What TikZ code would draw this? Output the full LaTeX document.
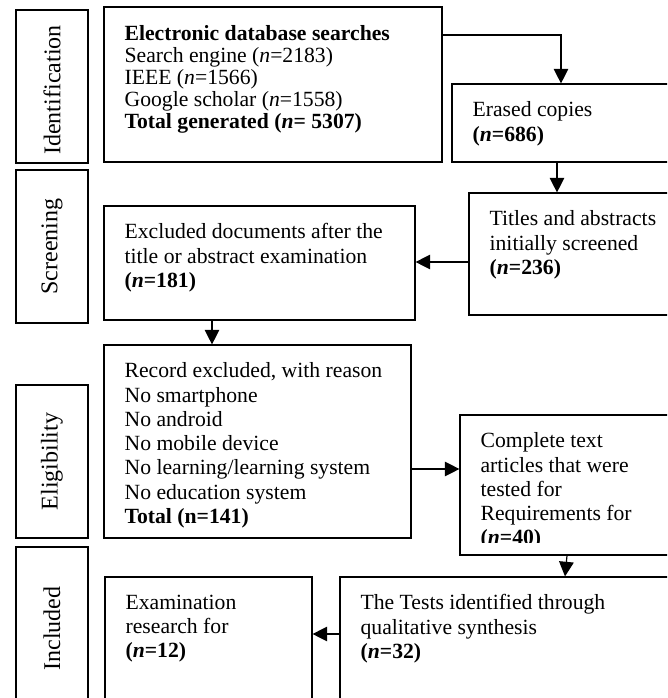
\documentclass[tikz,border=0pt]{standalone}
\usepackage{fontspec}
\setmainfont{Liberation Serif}
\usetikzlibrary{arrows.meta, fit}

\tikzset{
  box/.style={draw, line width=1pt, inner sep=0pt},
  stagebox/.style={draw, line width=1.7pt, inner sep=0pt},
  txt/.style={anchor=north west, align=left, inner sep=0pt, font=\fontsize{18.5}{20.75}\selectfont},
  stagetxt/.style={rotate=90, inner sep=0pt, font=\fontsize{20.5}{22}\selectfont},
  arr/.style={line width=1pt, -{Triangle[length=12.5pt, width=12.5pt]}}
}

\begin{document}
\begin{tikzpicture}[x=0.03cm, y=-0.03cm]
    \clip (0,0) rectangle (667,698);
    \def\tx{17.9pt}
    \def\ty{-15.4pt}
    % stages on the left
    \node[stagebox, fit={(16,10) (88,163)}] (ident) {};
    \node[stagebox, fit={(16,170) (88,323)}] (screen) {};
    \node[stagebox, fit={(16,385) (88,538)}] (elig) {};
    \node[stagebox, fit={(16,547) (88,710)}] (incl) {};
    \node[stagetxt] at ([yshift=-3pt]ident.center) {Identification};
    \node[stagetxt] at (screen.center) {Screening};
    \node[stagetxt] at (elig.center) {Eligibility};
    \node[stagetxt] at (incl.center) {Included};

    % boxes
    \node[box, fit={(104,7) (442,162)}] (elec) {};
    \node[box, fit={(452,84) (670,162)}] (erased) {};
    \node[box, fit={(469,193) (670,315)}] (titles) {};
    \node[box, fit={(104,206) (415,320)}] (excl) {};
    \node[box, fit={(104,345) (411,538)}] (record) {};
    \node[box, fit={(460,415) (670,555)}] (complete) {};
    \node[box, fit={(340,577) (670,710)}] (tests) {};
    \node[box, fit={(105,577) (312,710)}] (exam) {};

    \node[txt, font=\fontsize{18.5}{18.7}\selectfont] (electxt) at ([shift={(\tx,-16.2pt)}]elec.north west)
        {\textbf{Electronic database searches}\\
         Search engine (\textit{n}=2183)\\
         IEEE (\textit{n}=1566)\\
         Google scholar (\textit{n}=1558)\\
         \textbf{Total generated (\textit{n}= 5307)}};
    \node[txt] (erasedtxt) at ([shift={(\tx,\ty)}]erased.north west)
        {Erased copies\\ \textbf{(\textit{n}=686)}};
    \node[txt] (titlestxt) at ([shift={(\tx,\ty)}]titles.north west)
        {Titles and abstracts\\ initially screened\\ \textbf{(\textit{n}=236)}};
    \node[txt] (excltxt) at ([shift={(\tx,\ty)}]excl.north west)
        {Excluded documents after the\\ title or abstract examination\\ \textbf{(\textit{n}=181)}};
    \node[txt] (recordtxt) at ([shift={(\tx,\ty)}]record.north west)
        {Record excluded, with reason\\ No smartphone\\ No android\\ No mobile device\\
         No learning/learning system\\ No education system\\ \textbf{Total (n=141)}};
    \begin{scope}
        \clip (460,415) rectangle (667,542);
        \node[txt] (completetxt) at ([shift={(\tx,\ty)}]complete.north west)
            {Complete text\\ articles that were\\ tested for\\ Requirements for\\ \textbf{(\textit{n}=40)}};
    \end{scope}
    \node[txt] (teststxt) at ([shift={(\tx,\ty)}]tests.north west)
        {The Tests identified through\\ qualitative synthesis\\ \textbf{(\textit{n}=32)}};
    \node[txt] (examtxt) at ([shift={(\tx,\ty)}]exam.north west)
        {Examination\\ research for\\ \textbf{(\textit{n}=12)}};

    % arrows
    \coordinate (c1) at (561,35);
    \coordinate (c2) at (557,0);
    \coordinate (c3) at (0,262);
    \coordinate (c4) at (212,0);
    \coordinate (c5) at (0,469);
    \coordinate (c6) at (0,634);
    \coordinate (c7) at (567,0);
    \coordinate (c8) at (565,0);
    \draw[arr] (elec.east |- c1) -| (erased.north -| c1);
    \draw[arr] (erased.south -| c2) -- (titles.north -| c2);
    \draw[arr] (titles.west |- c3) -- (excl.east |- c3);
    \draw[arr] (excl.south -| c4) -- (record.north -| c4);
    \draw[arr] (record.east |- c5) -- (complete.west |- c5);
    \draw[arr] (complete.south -| c7) -- (tests.north -| c8);
    \draw[arr] (tests.west |- c6) -- (exam.east |- c6);
\end{tikzpicture}
\end{document}
